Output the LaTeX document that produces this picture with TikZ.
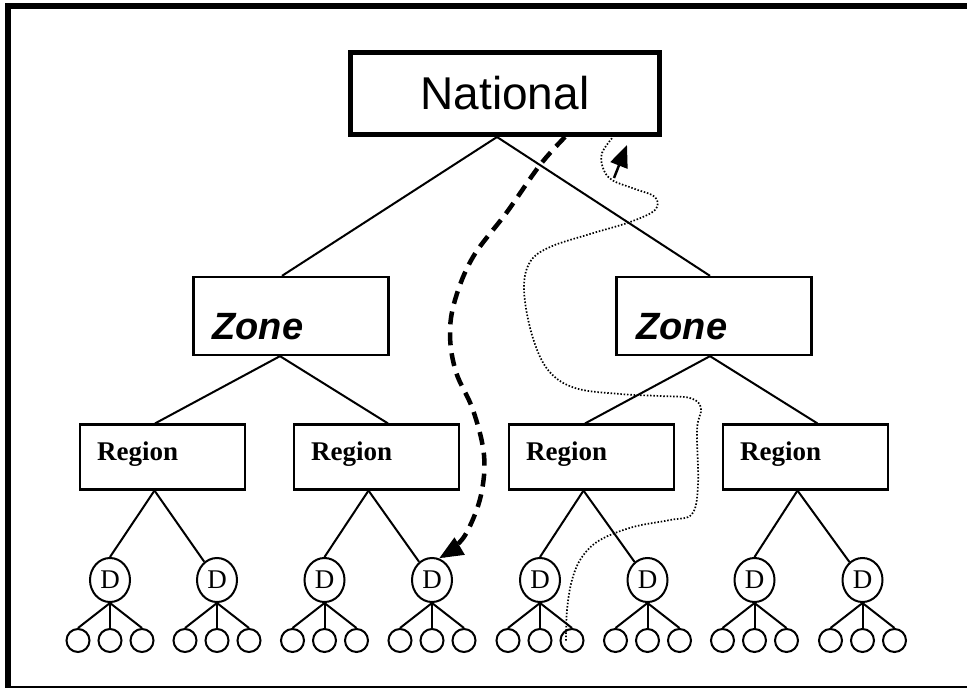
\documentclass[tikz,border=0pt]{standalone}
\usepackage{fontspec}
\newfontfamily\arialf{Liberation Sans}
\newfontfamily\timesf{Liberation Serif}
\usetikzlibrary{arrows.meta,shapes.geometric}
\begin{document}
\begin{tikzpicture}[x=1pt,y=-1pt,
  natbox/.style={draw, line width=5pt, minimum width=309pt, minimum height=82pt, inner sep=0pt, font=\arialf\fontsize{46}{46}\selectfont},
  zonebox/.style={draw, line width=2.3pt, minimum width=195pt, minimum height=78pt, inner sep=0pt},
  zonetext/.style={anchor=base west, inner sep=0pt, font=\arialf\bfseries\itshape\fontsize{38}{38}\selectfont},
  regbox/.style={draw, line width=2.1pt, minimum width=165pt, minimum height=65pt, inner sep=0pt},
  regtext/.style={anchor=base west, inner sep=0pt, font=\timesf\bfseries\fontsize{27}{27}\selectfont},
  dnode/.style={draw, ellipse, line width=2pt, minimum width=40pt, minimum height=44pt, inner sep=0pt, font=\timesf\fontsize{27}{27}\selectfont},
  leaf/.style={draw, circle, line width=2pt, minimum size=23pt, inner sep=0pt},
  tree/.style={line width=2pt},
  frameline/.style={line width=6pt},
  dashpath/.style={line width=4.5pt, dash pattern=on 13pt off 8pt, -{Triangle[length=24pt,width=19pt]}},
  dotpath/.style={line width=1.7pt, dash pattern=on 1.5pt off 1.8pt},
  smallarrow/.style={line width=2.5pt, -{Triangle[length=22pt,width=18pt]}},
]
\useasboundingbox (0,0) rectangle (967,688);
% frame
\coordinate (ftl) at (5,6);
\coordinate (ftr) at (967,6);
\coordinate (flt) at (8,3);
\coordinate (flb) at (8,687);
\coordinate (fbl) at (5,687);
\coordinate (fbr) at (967,687);
\draw[frameline] (ftl) -- (ftr);
\draw[frameline] (flt) -- (flb);
\draw[line width=1.5pt] (fbl) -- (fbr);

% nodes
\node[natbox] (nat) at (505,93.5) {National};
\node[zonebox] (z1) at (291,316) {};
\node[zonebox] (z2) at (714,316) {};
\node[zonetext] (z1t) at ([xshift=20pt,yshift=-23pt]z1.west) {Zone};
\node[zonetext] (z2t) at ([xshift=21pt,yshift=-23pt]z2.west) {Zone};

\foreach \k/\x in {1/162.5,2/376.5,3/591.5,4/805.5}{
  \node[regbox] (r\k) at (\x,457) {};
  \node[regtext] (r\k t) at ([xshift=18pt,yshift=-3pt]r\k.west) {Region};
}

\foreach \i/\x in {1/110,2/217,3/324.5,4/432,5/540,6/647.5,7/754.5,8/862.5}{
  \node[dnode] (d\i) at (\x,580) {D};
  \node[leaf] (l\i-1) at (\x-32,640.5) {};
  \node[leaf] (l\i-2) at (\x,640.5) {};
  \node[leaf] (l\i-3) at (\x+32,640.5) {};
  \draw[tree] (d\i.south) -- (l\i-1.north);
  \draw[tree] (d\i.south) -- (l\i-2.north);
  \draw[tree] (d\i.south) -- (l\i-3.north);
}

% tree connectors
\draw[tree] ([xshift=-8pt]nat.south) -- ([xshift=-9pt]z1.north);
\draw[tree] ([xshift=-8pt]nat.south) -- ([xshift=-4pt]z2.north);
\draw[tree] ([xshift=-11pt]z1.south) -- ([xshift=-7.5pt]r1.north);
\draw[tree] ([xshift=-11pt]z1.south) -- ([xshift=11.5pt]r2.north);
\draw[tree] ([xshift=-4pt]z2.south) -- ([xshift=-6.5pt]r3.north);
\draw[tree] ([xshift=-4pt]z2.south) -- ([xshift=12pt]r4.north);
\foreach \k/\a/\b in {1/1/2,2/3/4,3/5/6,4/7/8}{
  \draw[tree] ([xshift=-8pt]r\k.south) -- (d\a.north);
  \draw[tree] ([xshift=-8pt]r\k.south) -- (d\b);
}

% dashed arrow National -> D
\coordinate (dstart) at ([xshift=60pt]nat.south);
\coordinate (dend) at (d4.72);
\draw[dashpath] plot[smooth, tension=0.6] coordinates {(dstart) (540,165) (507,212) (473,257) (455,300) (450,335) (456,372) (473,410) (484,455) (481,495) (468,530) (455,547) (dend)};

% dotted path leaf -> National
\coordinate (tstart) at ([xshift=-6pt]l5-3.center);
\coordinate (tend) at ([xshift=108pt]nat.south);
\draw[dotpath] plot[smooth, tension=0.6] coordinates {(tstart) (567,610) (572,580) (582,557) (600,540) (633,527) (670,520) (692,514) (698,485) (697,430) (701,408) (690,398) (660,396) (620,394) (575,388) (548,370) (532,335) (524,290) (530,262) (550,247) (590,234) (630,222) (655,210) (655,197) (635,189) (612,180) (603,168) (602,153) (tend)};

% small arrow
\coordinate (aa) at (614,178);
\coordinate (ab) at (627,145);
\draw[smallarrow] (aa) -- (ab);
\end{tikzpicture}
\end{document}
